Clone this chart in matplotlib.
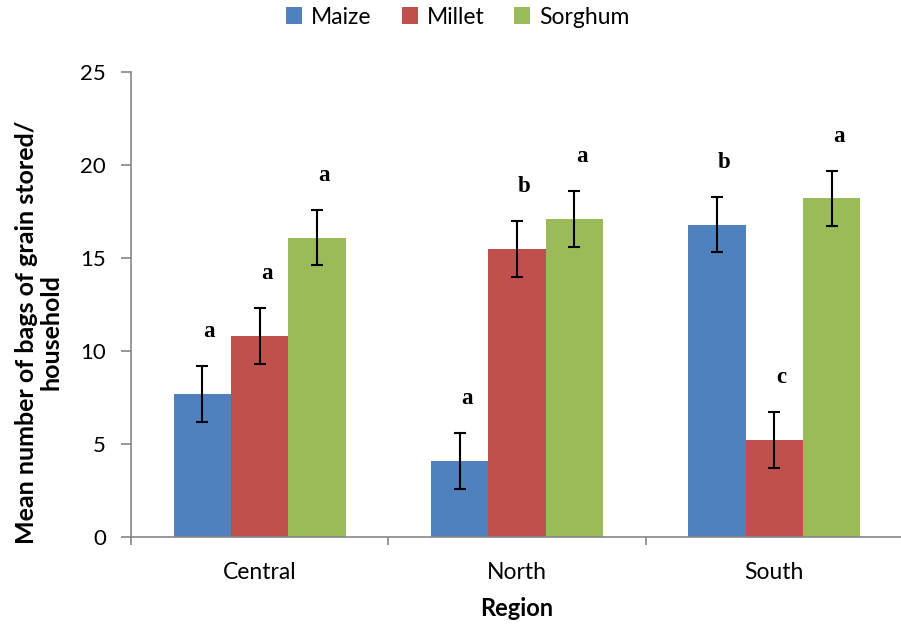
import matplotlib
matplotlib.use("Agg")
import matplotlib.pyplot as plt
import numpy as np

regions = ["Central", "North", "South"]
crops = ["Maize", "Millet", "Sorghum"]
maize = [7.7, 4.1, 16.8]
millet = [10.8, 15.5, 5.2]
sorghum = [16.1, 17.1, 18.2]
maize_err = [1.5, 1.5, 1.5]
millet_err = [1.5, 1.5, 1.5]
sorghum_err = [1.5, 1.5, 1.5]
maize_letters = ["a", "a", "b"]
millet_letters = ["a", "b", "c"]
sorghum_letters = ["a", "a", "a"]

colors = ["#4F81BD", "#C0504D", "#9BBB59"]
axis_grey = "#868686"

plt.rcParams['font.family'] = ['Lato', 'DejaVu Sans']

fig = plt.figure(figsize=(9.01, 6.28), dpi=100)
ax = fig.add_axes([131 / 901, 91 / 628, 772 / 901, 465 / 628])

x = np.arange(len(regions))
w = 0.223
series = [
    (maize, maize_err, maize_letters),
    (millet, millet_err, millet_letters),
    (sorghum, sorghum_err, sorghum_letters),
]
for i, (vals, errs, letters) in enumerate(series):
    pos = x + (i - 1) * w
    ax.bar(pos, vals, width=w, color=colors[i], label=crops[i], zorder=2)
    ax.errorbar(pos, vals, yerr=errs, fmt="none", ecolor="black",
                elinewidth=1.5, capsize=4.5, capthick=1.5, zorder=3)
    for p, v, e, t in zip(pos, vals, errs, letters):
        ax.text(p + 0.028, v + e + 1.85, t, ha="center", va="center",
                fontsize=16.5, fontweight="bold", family="Liberation Serif")

ax.set_xlim(-0.5, 2.5)
ax.set_ylim(0, 25)
ax.set_yticks([0, 5, 10, 15, 20, 25])
ax.set_xticks([-0.5, 0.5, 1.5, 2.5])
ax.set_xticklabels([])
ax.set_xticks(x, minor=True)
ax.set_xticklabels(regions, minor=True)
ax.tick_params(axis="x", which="minor", length=0, pad=18, labelsize=16.5)
ax.tick_params(axis="x", which="major", length=6, color=axis_grey, width=1.2)
ax.tick_params(axis="y", length=7, color=axis_grey, width=1.2, pad=11, labelsize=16)

for s in ["top", "right"]:
    ax.spines[s].set_visible(False)
for s in ["left", "bottom"]:
    ax.spines[s].set_color(axis_grey)
    ax.spines[s].set_linewidth(1.2)

fig.text(39 / 901, 1 - 332 / 628, "Mean number of bags of grain stored/\nhousehold",
         rotation=90, ha="center", va="center", multialignment="center",
         fontsize=18, fontweight="bold", linespacing=1.1)
fig.text(517 / 901, 1 - 609 / 628, "Region", ha="center", va="center",
         fontsize=17, fontweight="bold")

fig.legend(loc="center", bbox_to_anchor=(458 / 901, 1 - 17 / 628), ncol=3,
           frameon=False, fontsize=16.5, handlelength=0.7, handleheight=0.7,
           handletextpad=0.4, columnspacing=1.3)

fig.savefig("out.png", dpi=100)
